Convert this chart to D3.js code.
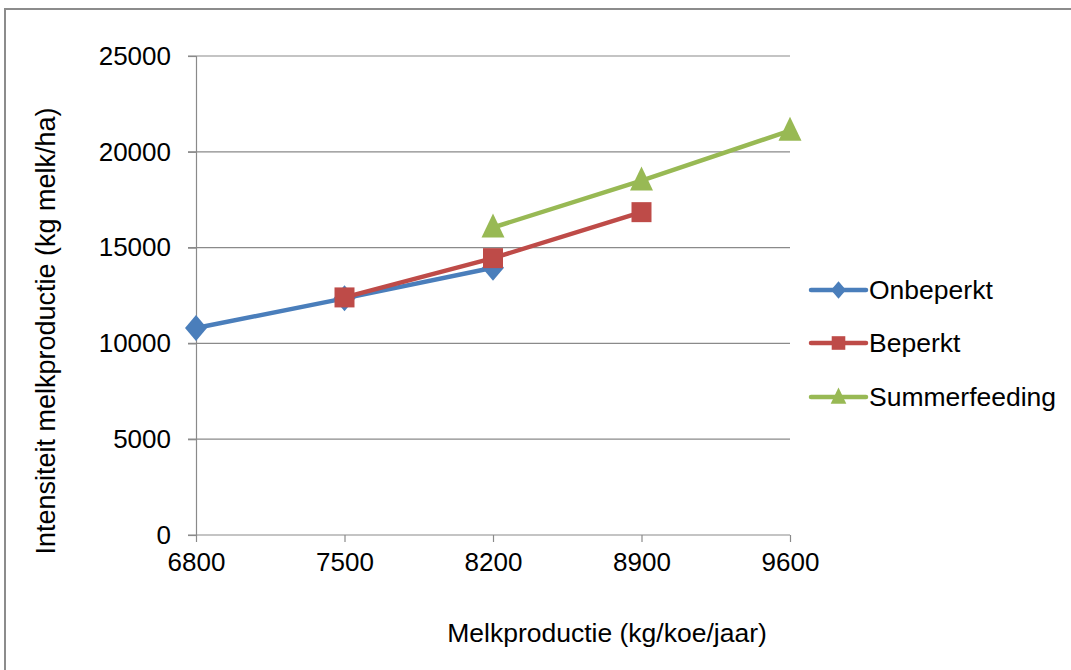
<!DOCTYPE html>
<html><head><meta charset="utf-8">
<script src="https://cdn.jsdelivr.net/npm/d3@7"></script>
<style>body{margin:0;background:#fff;} text{font-family:"Liberation Sans",Arial,sans-serif;fill:#000;}</style>
</head><body>
<svg id="c" width="1071" height="670"></svg>
<script>
const categories = [6800, 7500, 8200, 8900, 9600];
const yTicks = [0, 5000, 10000, 15000, 20000, 25000];
const onbeperkt = [10800, 12350, 13950, null, null];
const beperkt = [null, 12400, 14450, 16850, null];
const summerfeeding = [null, null, 16050, 18500, 21100];
const seriesNames = ["Onbeperkt", "Beperkt", "Summerfeeding"];
const seriesColors = ["#4A7EBB", "#BE4B48", "#98B954"];
const seriesValues = [onbeperkt, beperkt, summerfeeding];

function markerPath(i, s) {
  // s = scale factor
  if (i === 0) { const w = 11*s, h = 13*s; return `M0,${-h}L${w},0L0,${h}L${-w},0Z`; }
  if (i === 1) { const a = 10*s; return `M${-a},${-a}H${a}V${a}H${-a}Z`; }
  const w = 11.5*s, t = 14*s, b = 10*s; return `M0,${-t}L${w},${b}L${-w},${b}Z`;
}

const svg = d3.select("#c");
svg.append("rect").attr("x",5).attr("y",9).attr("width",1100).attr("height",700)
  .attr("fill","#fff").attr("stroke","#8c8c8c").attr("stroke-width",2);

const x = d3.scalePoint().domain(categories).range([196, 790]);
const y = d3.scaleLinear().domain([0, 25000]).range([535, 56]);
const grid = "#8a8a8a";

// gridlines
svg.append("g").selectAll("line").data(yTicks.filter(d=>d>0)).join("line")
  .attr("x1",188).attr("x2",790).attr("y1",d=>y(d)).attr("y2",d=>y(d))
  .attr("stroke",grid).attr("stroke-width",1.2);

// y axis
const ya = svg.append("g").attr("transform","translate(196,0)")
  .call(d3.axisLeft(y).tickValues(yTicks).tickSize(8).tickPadding(17).tickFormat(d3.format("d")));
ya.select(".domain").attr("stroke",grid).attr("stroke-width",1.2);
ya.selectAll(".tick line").attr("stroke",grid).attr("stroke-width",1.2);
ya.selectAll("text").style("font-size","26px").style("font-family","'Liberation Sans',Arial,sans-serif").attr("fill","#000");

// x axis
const xa = svg.append("g").attr("transform","translate(0,535)")
  .call(d3.axisBottom(x).tickSize(7).tickPadding(11).tickSizeOuter(0));
xa.select(".domain").attr("stroke",grid).attr("stroke-width",1.2).attr("d","M188,0H790");
xa.selectAll(".tick line").attr("stroke",grid).attr("stroke-width",1.2);
xa.selectAll("text").style("font-size","26px").style("font-family","'Liberation Sans',Arial,sans-serif").attr("fill","#000");

// lines & markers
const line = d3.line().defined(d=>d.v!=null).x(d=>x(d.c)).y(d=>y(d.v));
seriesValues.forEach((vals,i)=>{
  const pts = categories.map((c,j)=>({c, v: vals[j]}));
  svg.append("path").datum(pts).attr("d",line).attr("fill","none")
    .attr("stroke",seriesColors[i]).attr("stroke-width",4.5).attr("stroke-linejoin","round");
  svg.append("g").selectAll("path").data(pts.filter(d=>d.v!=null)).join("path")
    .attr("d", markerPath(i, 1))
    .attr("transform", d=>`translate(${x(d.c)},${y(d.v)})`)
    .attr("fill", seriesColors[i]);
});

// legend
const legY = [290, 343, 397];
seriesNames.forEach((n,i)=>{
  const g = svg.append("g");
  g.append("line").attr("x1",811).attr("x2",866).attr("y1",legY[i]).attr("y2",legY[i])
    .attr("stroke",seriesColors[i]).attr("stroke-width",4.5).attr("stroke-linecap","round");
  g.append("path").attr("d", markerPath(i, 0.68))
    .attr("transform",`translate(838.5,${legY[i]})`).attr("fill",seriesColors[i]);
  g.append("text").attr("x",869).attr("y",legY[i]).attr("dy","0.35em")
    .style("font-size","26.5px").text(n);
});

// axis titles
svg.append("text").attr("x",607).attr("y",633).attr("dy","0.35em").attr("text-anchor","middle")
  .style("font-size","26.5px").text("Melkproductie (kg/koe/jaar)");
svg.append("text").attr("transform","translate(46,331) rotate(-90)").attr("dy","0.35em")
  .attr("text-anchor","middle").style("font-size","27px").text("Intensiteit melkproductie (kg melk/ha)");
</script>
</body></html>
